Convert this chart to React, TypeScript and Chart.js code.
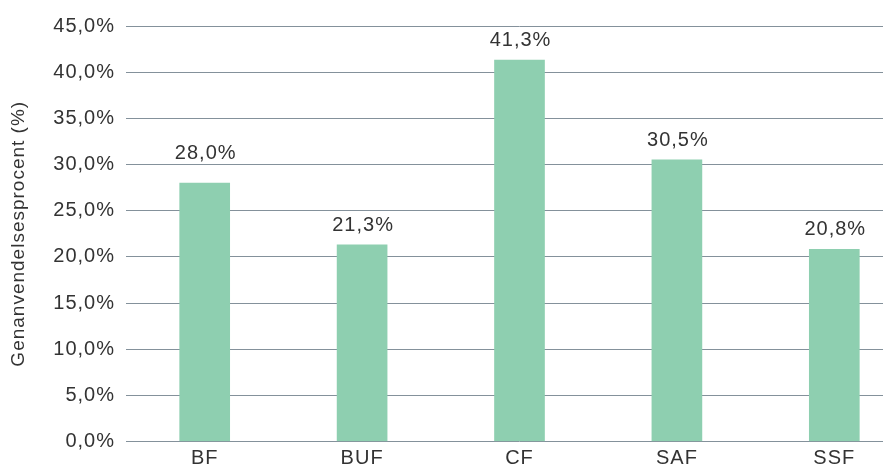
import React, { useEffect, useRef } from "react";
import { Chart, registerables } from "chart.js";

Chart.register(...registerables);

const categories = ["BF", "BUF", "CF", "SAF", "SSF"];
const values = [28.0, 21.3, 41.3, 30.5, 20.8];
const yMin = 0;
const yMax = 45;
const yStep = 5;
const yTitle = "Genanvendelsesprocent (%)";

const fmt = (v: number) => v.toFixed(1).replace(".", ",") + "%";

const FONT = "'Liberation Sans', Arial, Helvetica, sans-serif";
const TEXT = "#333333";
const SPACING = "1px";

const spacingPlugin = {
  id: "spacing",
  beforeDraw(chart: any) {
    (chart.ctx as any).letterSpacing = SPACING;
  },
};

const labelPlugin = {
  id: "barLabels",
  afterDatasetsDraw(chart: any) {
    const ctx = chart.ctx;
    const meta = chart.getDatasetMeta(0);
    const gaps = [24, 14, 14, 14, 14];
    ctx.save();
    (ctx as any).letterSpacing = SPACING;
    ctx.font = `20px ${FONT}`;
    ctx.fillStyle = TEXT;
    ctx.textAlign = "center";
    ctx.textBaseline = "alphabetic";
    meta.data.forEach((bar: any, i: number) => {
      ctx.fillText(fmt(values[i]), bar.x + 1, bar.y - (gaps[i] ?? 14));
    });
    ctx.restore();
  },
};

export default function App() {
  const ref = useRef<HTMLCanvasElement | null>(null);
  useEffect(() => {
    if (!ref.current) return;
    const chart = new Chart(ref.current, {
      type: "bar",
      data: {
        labels: categories,
        datasets: [
          {
            data: values,
            backgroundColor: "#8ecfb0",
            borderWidth: 0,
            barThickness: 50,
          },
        ],
      },
      options: {
        responsive: false,
        animation: false,
        layout: { padding: { top: 26, right: 2, left: 0, bottom: 0 } },
        plugins: {
          legend: { display: false },
          tooltip: { enabled: false },
        },
        scales: {
          x: {
            offset: true,
            grid: { display: false, drawTicks: false },
            border: { display: false },
            ticks: {
              color: TEXT,
              font: { family: FONT, size: 20 },
              padding: 5,
            },
            afterFit(scale: any) {
              scale.height = 28.5;
            },
          },
          y: {
            min: yMin,
            max: yMax,
            grid: { color: "#84919b", lineWidth: 1, drawTicks: false },
            border: { display: false },
            ticks: {
              stepSize: yStep,
              color: TEXT,
              font: { family: FONT, size: 20 },
              padding: 11,
              callback: (v: any) => fmt(Number(v)),
            },
            title: {
              display: true,
              text: yTitle,
              color: TEXT,
              font: { family: FONT, size: 19 },
              padding: { top: 7, bottom: 0 },
            },
            afterFit(scale: any) {
              scale.width = 126;
            },
          },
        },
      },
      plugins: [spacingPlugin, labelPlugin],
    });
    return () => chart.destroy();
  }, []);
  return (
    <div
      style={{
        position: "fixed",
        left: 0,
        top: 0,
        width: 883,
        height: 470,
        overflow: "hidden",
        background: "#ffffff",
      }}
    >
      <canvas ref={ref} width={915} height={470} style={{ display: "block" }} />
    </div>
  );
}
